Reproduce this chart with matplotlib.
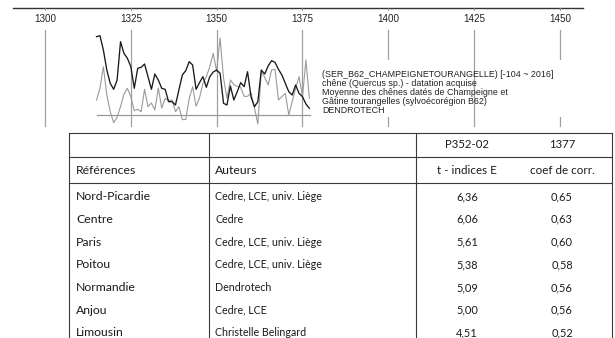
import numpy as np
import matplotlib
matplotlib.use("Agg")
import matplotlib.pyplot as plt
from matplotlib.patches import Rectangle

# ring-width curves, 1315-1377 (indices above the zero line)
years = np.arange(1315, 1378)
sample_p352 = [23.5, 23.8, 19.5, 13.5, 9.5, 7.7, 10.5, 22.0, 18.5, 17.0,
               14.5, 8.0, 14.0, 14.3, 15.3, 11.5, 7.7, 12.3, 10.5, 8.0,
               7.7, 4.0, 4.0, 3.0, 7.5, 12.0, 13.3, 16.0, 15.0, 7.7,
               9.7, 11.5, 8.3, 11.5, 12.9, 13.5, 12.5, 3.5, 3.0, 8.7,
               4.5, 7.0, 9.7, 8.5, 13.0, 5.5, 2.5, 4.0, 13.5, 12.3,
               14.7, 16.3, 15.8, 13.7, 12.0, 9.5, 7.0, 6.0, 9.0, 6.5,
               5.5, 3.3, 2.0]
ref_b62 = [4.5, 8.0, 14.5, 6.0, 1.0, -2.3, -0.7, 2.5, 6.3, 8.0,
           5.5, 1.3, 1.7, 1.0, 7.7, 2.5, 3.6, 1.5, 8.1, 2.1,
           5.0, 4.3, 4.5, 1.0, 2.5, -1.4, -1.3, 5.0, 8.5, 2.6,
           5.1, 9.5, 11.5, 14.5, 18.5, 13.1, 23.1, 11.1, 5.0, 10.5,
           9.1, 8.6, 8.3, 5.6, 5.6, 6.6, 2.1, -2.7, 13.1, 11.3,
           9.0, 13.5, 13.7, 4.5, 5.5, 6.5, 0.0, 4.0, 8.0, 11.5,
           5.5, 16.5, 5.0]
tick_years = [1300, 1325, 1350, 1375, 1400, 1425, 1450]
ref_lines = ["(SER_B62_CHAMPEIGNETOURANGELLE) [-104 ~ 2016]",
             "chêne (Quercus sp.) - datation acquise",
             "Moyenne des chênes datés de Champeigne et",
             "Gâtine tourangelles (sylvoécorégion B62)",
             "DENDROTECH"]

# correlation table
head_top = ["", "", "P352-02", "1377"]
head_cols = ["Références", "Auteurs", "t - indices E", "coef de corr."]
regions = ["Nord-Picardie", "Centre", "Paris", "Poitou", "Normandie",
           "Anjou", "Limousin"]
authors = ["Cedre, LCE, univ. Liège", "Cedre", "Cedre, LCE, univ. Liège",
           "Cedre, LCE, univ. Liège", "Dendrotech", "Cedre, LCE",
           "Christelle Belingard"]
t_values = ["6,36", "6,06", "5,61", "5,38", "5,09", "5,00", "4,51"]
corr_values = ["0,65", "0,63", "0,60", "0,58", "0,56", "0,56", "0,52"]

W, H = 615, 338
fig = plt.figure(figsize=(W / 100, H / 100), dpi=100)
fig.patch.set_facecolor("white")

# --- chart strip on top ---
ax = fig.add_axes([0, 1 - 130 / H, 1, 130 / H])
ax.set_xlim(1286.89, 1466.03)
ax.set_ylim(-4.5, 34.5)
ax.axis("off")

grid_c = "#a0a0a0"
ax.plot([1290.6, 1456.8], [32.2, 32.2], color="#333333", lw=1.0)
for yr in tick_years:
    ax.plot([yr, yr], [32.2, 31.4], color="#888888", lw=0.6)
    ax.text(yr, 28.9, str(yr), ha="center", va="center", fontsize=7.1,
            family="Liberation Sans", color="#222222")
    z = 4 if yr == 1425 else 1
    ax.plot([yr, yr], [25.5, -3.3], color=grid_c, lw=0.9, zorder=z)

ax.plot([years[0], years[-1] + 0.1], [0, 0], color="#999999", lw=0.9, zorder=2)
ax.plot(years, ref_b62, color="#9a9a9a", lw=0.8, zorder=2)
ax.plot(years, sample_p352, color="#1a1a1a", lw=0.95, zorder=3)

ax.add_patch(Rectangle((1378.6, -0.6), 72.0, 17.1, facecolor="white",
                       edgecolor="none", zorder=3))
ax.text(1380.7, 13.6, "\n".join(ref_lines), ha="left", va="top",
        fontsize=6.4, family="Liberation Sans", color="#222222",
        linespacing=1.0, zorder=5)

# --- table below ---
tb = fig.add_axes([0, 0, 1, 1], zorder=-1)
tb.set_xlim(0, W)
tb.set_ylim(H, 0)
tb.axis("off")

x_left, x_c2, x_c3, x_right = 69, 209, 416, 612
line_c = "#3a3a3a"
for y in [133, 156.5, 182.5]:
    tb.plot([x_left, x_right], [y, y], color=line_c, lw=0.8)
for x in [x_left, x_c2, x_c3, x_right]:
    tb.plot([x, x], [133, H], color=line_c, lw=0.8)

font_t = "Lato"
tc = "#1a1a1a"
num_x = [467, 562]
for x, s in zip(num_x, head_top[2:]):
    tb.text(x, 145, s, ha="center", va="center", fontsize=8.2, family=font_t, color=tc)
tb.text(76, 171, head_cols[0], ha="left", va="center", fontsize=8.8, family=font_t, color=tc)
tb.text(215, 171, head_cols[1], ha="left", va="center", fontsize=8.8, family=font_t, color=tc)
for x, s in zip(num_x, head_cols[2:]):
    tb.text(x, 171, s, ha="center", va="center", fontsize=8.4, family=font_t, color=tc)

row_y = 196.5
for reg, aut, tv, cv in zip(regions, authors, t_values, corr_values):
    tb.text(76, row_y, reg, ha="left", va="center", fontsize=8.8, family=font_t, color=tc)
    tb.text(215, row_y, aut, ha="left", va="center", fontsize=7.7, family=font_t, color=tc)
    tb.text(num_x[0], row_y, tv, ha="center", va="center", fontsize=7.9, family=font_t, color=tc)
    tb.text(num_x[1], row_y, cv, ha="center", va="center", fontsize=7.9, family=font_t, color=tc)
    row_y += 22.75

fig.savefig("out.png", dpi=100)
